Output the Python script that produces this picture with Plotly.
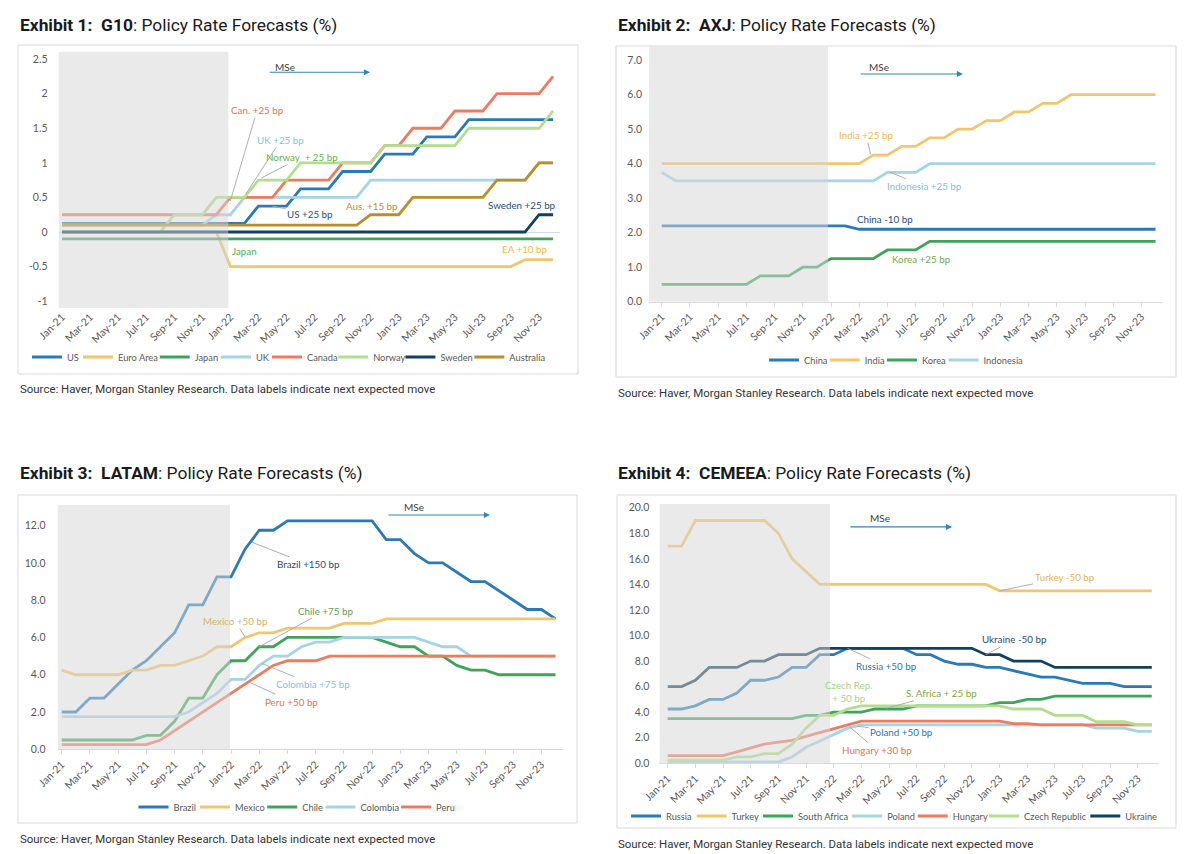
import plotly.graph_objects as go

# ---------------- data ----------------
months = ["Jan-21", "Feb-21", "Mar-21", "Apr-21", "May-21", "Jun-21", "Jul-21", "Aug-21", "Sep-21", "Oct-21", "Nov-21", "Dec-21",
          "Jan-22", "Feb-22", "Mar-22", "Apr-22", "May-22", "Jun-22", "Jul-22", "Aug-22", "Sep-22", "Oct-22", "Nov-22", "Dec-22",
          "Jan-23", "Feb-23", "Mar-23", "Apr-23", "May-23", "Jun-23", "Jul-23", "Aug-23", "Sep-23", "Oct-23", "Nov-23", "Dec-23"]

# Exhibit 1: G10
g10_us = [0.125, 0.125, 0.125, 0.125, 0.125, 0.125, 0.125, 0.125, 0.125, 0.125, 0.125, 0.125, 0.125, 0.125, 0.375, 0.375, 0.375, 0.625,
          0.625, 0.625, 0.875, 0.875, 0.875, 1.125, 1.125, 1.125, 1.375, 1.375, 1.375, 1.625, 1.625, 1.625, 1.625, 1.625, 1.625, 1.625]
g10_euro = [0.0, 0.0, 0.0, 0.0, 0.0, 0.0, 0.0, 0.0, 0.0, 0.0, 0.0, 0.0, -0.5, -0.5, -0.5, -0.5, -0.5, -0.5,
            -0.5, -0.5, -0.5, -0.5, -0.5, -0.5, -0.5, -0.5, -0.5, -0.5, -0.5, -0.5, -0.5, -0.5, -0.5, -0.4, -0.4, -0.4]
g10_japan = [-0.1, -0.1, -0.1, -0.1, -0.1, -0.1, -0.1, -0.1, -0.1, -0.1, -0.1, -0.1, -0.1, -0.1, -0.1, -0.1, -0.1, -0.1,
             -0.1, -0.1, -0.1, -0.1, -0.1, -0.1, -0.1, -0.1, -0.1, -0.1, -0.1, -0.1, -0.1, -0.1, -0.1, -0.1, -0.1, -0.1]
g10_uk = [0.1, 0.1, 0.1, 0.1, 0.1, 0.1, 0.1, 0.1, 0.1, 0.1, 0.1, 0.25, 0.25, 0.5, 0.5, 0.5, 0.5, 0.5,
          0.5, 0.5, 0.5, 0.5, 0.75, 0.75, 0.75, 0.75, 0.75, 0.75, 0.75, 0.75, 0.75, 0.75, 0.75, 0.75, 1.0, 1.0]
g10_canada = [0.25, 0.25, 0.25, 0.25, 0.25, 0.25, 0.25, 0.25, 0.25, 0.25, 0.25, 0.25, 0.5, 0.5, 0.5, 0.5, 0.75, 0.75,
              0.75, 0.75, 1.0, 1.0, 1.0, 1.25, 1.25, 1.5, 1.5, 1.5, 1.75, 1.75, 1.75, 2.0, 2.0, 2.0, 2.0, 2.25]
g10_norway = [0.0, 0.0, 0.0, 0.0, 0.0, 0.0, 0.0, 0.0, 0.25, 0.25, 0.25, 0.5, 0.5, 0.5, 0.75, 0.75, 0.75, 1.0,
              1.0, 1.0, 1.0, 1.0, 1.0, 1.25, 1.25, 1.25, 1.25, 1.25, 1.25, 1.5, 1.5, 1.5, 1.5, 1.5, 1.5, 1.75]
g10_sweden = [0.0, 0.0, 0.0, 0.0, 0.0, 0.0, 0.0, 0.0, 0.0, 0.0, 0.0, 0.0, 0.0, 0.0, 0.0, 0.0, 0.0, 0.0,
              0.0, 0.0, 0.0, 0.0, 0.0, 0.0, 0.0, 0.0, 0.0, 0.0, 0.0, 0.0, 0.0, 0.0, 0.0, 0.0, 0.25, 0.25]
g10_australia = [0.1, 0.1, 0.1, 0.1, 0.1, 0.1, 0.1, 0.1, 0.1, 0.1, 0.1, 0.1, 0.1, 0.1, 0.1, 0.1, 0.1, 0.1,
                 0.1, 0.1, 0.1, 0.1, 0.25, 0.25, 0.25, 0.5, 0.5, 0.5, 0.5, 0.5, 0.5, 0.75, 0.75, 0.75, 1.0, 1.0]

# Exhibit 2: AXJ
axj_china = [2.2, 2.2, 2.2, 2.2, 2.2, 2.2, 2.2, 2.2, 2.2, 2.2, 2.2, 2.2, 2.2, 2.2, 2.1, 2.1, 2.1, 2.1,
             2.1, 2.1, 2.1, 2.1, 2.1, 2.1, 2.1, 2.1, 2.1, 2.1, 2.1, 2.1, 2.1, 2.1, 2.1, 2.1, 2.1, 2.1]
axj_india = [4.0, 4.0, 4.0, 4.0, 4.0, 4.0, 4.0, 4.0, 4.0, 4.0, 4.0, 4.0, 4.0, 4.0, 4.0, 4.25, 4.25, 4.5,
             4.5, 4.75, 4.75, 5.0, 5.0, 5.25, 5.25, 5.5, 5.5, 5.75, 5.75, 6.0, 6.0, 6.0, 6.0, 6.0, 6.0, 6.0]
axj_korea = [0.5, 0.5, 0.5, 0.5, 0.5, 0.5, 0.5, 0.75, 0.75, 0.75, 1.0, 1.0, 1.25, 1.25, 1.25, 1.25, 1.5, 1.5,
             1.5, 1.75, 1.75, 1.75, 1.75, 1.75, 1.75, 1.75, 1.75, 1.75, 1.75, 1.75, 1.75, 1.75, 1.75, 1.75, 1.75, 1.75]
axj_indonesia = [3.75, 3.5, 3.5, 3.5, 3.5, 3.5, 3.5, 3.5, 3.5, 3.5, 3.5, 3.5, 3.5, 3.5, 3.5, 3.5, 3.75, 3.75,
                 3.75, 4.0, 4.0, 4.0, 4.0, 4.0, 4.0, 4.0, 4.0, 4.0, 4.0, 4.0, 4.0, 4.0, 4.0, 4.0, 4.0, 4.0]

# Exhibit 3: LATAM
lat_brazil = [2.0, 2.0, 2.75, 2.75, 3.5, 4.25, 4.75, 5.5, 6.25, 7.75, 7.75, 9.25, 9.25, 10.75, 11.75, 11.75, 12.25, 12.25,
              12.25, 12.25, 12.25, 12.25, 12.25, 11.25, 11.25, 10.5, 10.0, 10.0, 9.5, 9.0, 9.0, 8.5, 8.0, 7.5, 7.5, 7.0]
lat_mexico = [4.25, 4.0, 4.0, 4.0, 4.0, 4.25, 4.25, 4.5, 4.5, 4.75, 5.0, 5.5, 5.5, 6.0, 6.25, 6.25, 6.5, 6.5,
              6.5, 6.5, 6.75, 6.75, 6.75, 7.0, 7.0, 7.0, 7.0, 7.0, 7.0, 7.0, 7.0, 7.0, 7.0, 7.0, 7.0, 7.0]
lat_chile = [0.5, 0.5, 0.5, 0.5, 0.5, 0.5, 0.75, 0.75, 1.5, 2.75, 2.75, 4.0, 4.75, 4.75, 5.5, 5.5, 6.0, 6.0,
             6.0, 6.0, 6.0, 6.0, 6.0, 5.75, 5.5, 5.5, 5.0, 5.0, 4.5, 4.25, 4.25, 4.0, 4.0, 4.0, 4.0, 4.0]
lat_colombia = [1.75, 1.75, 1.75, 1.75, 1.75, 1.75, 1.75, 1.75, 1.75, 2.0, 2.5, 3.0, 3.75, 3.75, 4.5, 5.0, 5.0, 5.5,
                5.75, 5.75, 6.0, 6.0, 6.0, 6.0, 6.0, 6.0, 5.75, 5.5, 5.5, 5.0, 5.0, 5.0, 5.0, 5.0, 5.0, 5.0]
lat_peru = [0.25, 0.25, 0.25, 0.25, 0.25, 0.25, 0.25, 0.5, 1.0, 1.5, 2.0, 2.5, 3.0, 3.5, 4.0, 4.5, 4.75, 4.75,
            4.75, 5.0, 5.0, 5.0, 5.0, 5.0, 5.0, 5.0, 5.0, 5.0, 5.0, 5.0, 5.0, 5.0, 5.0, 5.0, 5.0, 5.0]

# Exhibit 4: CEMEEA
cem_russia = [4.25, 4.25, 4.5, 5.0, 5.0, 5.5, 6.5, 6.5, 6.75, 7.5, 7.5, 8.5, 8.5, 9.0, 9.0, 9.0, 9.0, 9.0,
              8.5, 8.5, 8.0, 7.75, 7.75, 7.5, 7.5, 7.25, 7.0, 6.75, 6.75, 6.5, 6.25, 6.25, 6.25, 6.0, 6.0, 6.0]
cem_turkey = [17.0, 17.0, 19.0, 19.0, 19.0, 19.0, 19.0, 19.0, 18.0, 16.0, 15.0, 14.0, 14.0, 14.0, 14.0, 14.0, 14.0, 14.0,
              14.0, 14.0, 14.0, 14.0, 14.0, 14.0, 13.5, 13.5, 13.5, 13.5, 13.5, 13.5, 13.5, 13.5, 13.5, 13.5, 13.5, 13.5]
cem_safrica = [3.5, 3.5, 3.5, 3.5, 3.5, 3.5, 3.5, 3.5, 3.5, 3.5, 3.75, 3.75, 4.0, 4.0, 4.0, 4.25, 4.25, 4.25,
               4.5, 4.5, 4.5, 4.5, 4.5, 4.5, 4.75, 4.75, 5.0, 5.0, 5.25, 5.25, 5.25, 5.25, 5.25, 5.25, 5.25, 5.25]
cem_poland = [0.1, 0.1, 0.1, 0.1, 0.1, 0.1, 0.1, 0.1, 0.1, 0.5, 1.25, 1.75, 2.25, 2.75, 3.0, 3.0, 3.0, 3.0,
              3.0, 3.0, 3.0, 3.0, 3.0, 3.0, 3.0, 3.0, 3.0, 3.0, 3.0, 3.0, 3.0, 2.75, 2.75, 2.75, 2.5, 2.5]
cem_hungary = [0.6, 0.6, 0.6, 0.6, 0.6, 0.9, 1.2, 1.5, 1.65, 1.8, 2.1, 2.4, 2.7, 3.0, 3.3, 3.3, 3.3, 3.3,
               3.3, 3.3, 3.3, 3.3, 3.3, 3.3, 3.3, 3.1, 3.1, 3.0, 3.0, 3.0, 3.0, 3.0, 3.0, 3.0, 3.0, 3.0]
cem_czech = [0.25, 0.25, 0.25, 0.25, 0.25, 0.5, 0.5, 0.75, 0.75, 1.5, 2.75, 3.75, 3.75, 4.25, 4.5, 4.5, 4.5, 4.5,
             4.5, 4.5, 4.5, 4.5, 4.5, 4.5, 4.5, 4.25, 4.25, 4.25, 3.75, 3.75, 3.75, 3.25, 3.25, 3.25, 3.0, 3.0]
cem_ukraine = [6.0, 6.0, 6.5, 7.5, 7.5, 7.5, 8.0, 8.0, 8.5, 8.5, 8.5, 9.0, 9.0, 9.0, 9.0, 9.0, 9.0, 9.0,
               9.0, 9.0, 9.0, 9.0, 9.0, 8.5, 8.5, 8.0, 8.0, 8.0, 7.5, 7.5, 7.5, 7.5, 7.5, 7.5, 7.5, 7.5]

# ---------------- styling ----------------
W, H = 1199, 854
BLUE, GOLD, GREEN, LBLUE = "#2A7AB8", "#F2C66D", "#3FA45B", "#A6D3E6"
ORANGE, LGREEN, NAVY, DGOLD = "#EE7B5D", "#B3DD8F", "#13405F", "#B8902A"
GREY_TXT = "#595959"
LEGFONT = 9.3
LABFONT = 9.8


def fx(px):
    return px / W


def fy(py):
    return 1 - py / H


def text_w(s, size):
    w = 0.0
    for ch in s:
        if ch in "ijlI.,:;'!|":
            w += 0.25
        elif ch in "frt -()":
            w += 0.34
        elif ch in "mwMW":
            w += 0.82
        elif ch.isupper():
            w += 0.64
        else:
            w += 0.52
    return w * size


panels = {
    1: dict(xpx=(58.5, 560.1), ypx=(51.5, 308.1), xr=[-0.25, 35.5], yr=[-1.1, 2.61],
            ytv=[-1, -0.5, 0, 0.5, 1, 1.5, 2, 2.5], ytt=["-1", "-0.5", "0", "0.5", "1", "1.5", "2", "2.5"],
            shade=11.85, leg=(291, 357), legtrim=9, box=(18, 45, 578, 374), title=(18, 25), src=(18, 389),
            head="Exhibit 1:\u00a0\u00a0G10", standoff=10,
            series=[("US", g10_us, BLUE), ("Euro Area", g10_euro, GOLD), ("Japan", g10_japan, GREEN),
                    ("UK", g10_uk, LBLUE), ("Canada", g10_canada, ORANGE), ("Norway", g10_norway, LGREEN),
                    ("Sweden", g10_sweden, NAVY), ("Australia", g10_australia, DGOLD)]),
    2: dict(xpx=(649.0, 1162.6), ypx=(46.4, 301.7), xr=[-0.9, 35.5], yr=[0, 7.4],
            ytv=[0, 1, 2, 3, 4, 5, 6, 7], ytt=["0.0", "1.0", "2.0", "3.0", "4.0", "5.0", "6.0", "7.0"],
            shade=11.79, leg=(898, 360), legtrim=7, box=(616, 46, 1176, 377), title=(616, 25), src=(616, 393),
            head="Exhibit 2:\u00a0\u00a0AXJ", standoff=6,
            series=[("China", axj_china, BLUE), ("India", axj_india, GOLD), ("Korea", axj_korea, GREEN),
                    ("Indonesia", axj_indonesia, LBLUE)]),
    3: dict(xpx=(57.5, 562.6), ypx=(505.1, 749.3), xr=[-0.3, 35.5], yr=[0, 13.1],
            ytv=[0, 2, 4, 6, 8, 10, 12], ytt=["0.0", "2.0", "4.0", "6.0", "8.0", "10.0", "12.0"],
            shade=11.93, leg=(299, 807), legtrim=7, box=(18, 495, 577, 823), title=(18, 473), src=(18, 839),
            head="Exhibit 3:\u00a0\u00a0LATAM", standoff=11,
            series=[("Brazil", lat_brazil, BLUE), ("Mexico", lat_mexico, GOLD), ("Chile", lat_chile, GREEN),
                    ("Colombia", lat_colombia, LBLUE), ("Peru", lat_peru, ORANGE)]),
    4: dict(xpx=(659.4, 1158.7), ypx=(503.9, 763.3), xr=[-0.6, 35.5], yr=[0, 20.3],
            ytv=[0, 2, 4, 6, 8, 10, 12, 14, 16, 18, 20],
            ytt=["0.0", "2.0", "4.0", "6.0", "8.0", "10.0", "12.0", "14.0", "16.0", "18.0", "20.0"],
            shade=11.74, leg=(896, 816), legtrim=7, box=(617, 495, 1176, 828), title=(616, 473), src=(616, 844),
            head="Exhibit 4:\u00a0\u00a0CEMEEA", standoff=9,
            series=[("Russia", cem_russia, BLUE), ("Turkey", cem_turkey, GOLD), ("South Africa", cem_safrica, GREEN),
                    ("Poland", cem_poland, LBLUE), ("Hungary", cem_hungary, ORANGE),
                    ("Czech Republic", cem_czech, LGREEN), ("Ukraine", cem_ukraine, NAVY)]),
}

fig = go.Figure()
layout = dict(width=W, height=H, autosize=False, margin=dict(l=0, r=0, t=0, b=0, autoexpand=False),
              paper_bgcolor="white", plot_bgcolor="white", showlegend=True)
shapes, annotations = [], []

for k, p in panels.items():
    sfx = "" if k == 1 else str(k)
    xa, ya = "x" + sfx, "y" + sfx
    leg = "legend" + sfx
    n = len(p["series"])
    for i, (name, vals, col) in enumerate(p["series"]):
        lw = text_w(name, LEGFONT) + (4 if i == n - 1 else -p["legtrim"])
        fig.add_trace(go.Scatter(x=months, y=vals, mode="lines", name=name,
                                 line=dict(color=col, width=2.8), xaxis=xa, yaxis=ya, legend=leg,
                                 legendwidth=max(6, lw), hoverinfo="skip"))
    layout["xaxis" + sfx] = dict(
        domain=[fx(p["xpx"][0]), fx(p["xpx"][1])], anchor=ya, type="category", range=p["xr"],
        tickmode="array", tickvals=months[0::2], ticktext=months[0::2], tickangle=-45,
        tickfont=dict(family="Lato", size=10.5, color=GREY_TXT), showgrid=False, zeroline=False,
        showline=(k != 1), linecolor="#D9D9D9", linewidth=1, automargin=False,
        ticks="" if k == 1 else "outside", ticklen=4, tickcolor="#D9D9D9", fixedrange=True)
    layout["yaxis" + sfx] = dict(
        domain=[fy(p["ypx"][1]), fy(p["ypx"][0])], anchor=xa, range=p["yr"],
        tickmode="array", tickvals=p["ytv"], ticktext=p["ytt"], showgrid=False,
        zeroline=(k == 1), zerolinecolor="#D9D9D9", zerolinewidth=1, showline=False,
        ticks="", ticklabelstandoff=p["standoff"], automargin=False,
        tickfont=dict(family="Lato", size=10.5, color=GREY_TXT), fixedrange=True)
    layout[leg] = dict(orientation="h", x=fx(p["leg"][0]), y=fy(p["leg"][1]), xanchor="center",
                       yanchor="middle", font=dict(family="Lato", size=LEGFONT, color=GREY_TXT),
                       bgcolor="rgba(0,0,0,0)", itemwidth=30, tracegroupgap=0)
    # forecast-history shading
    shapes.append(dict(type="rect", xref=xa, yref=ya, x0=p["xr"][0], x1=p["shade"], y0=p["yr"][0],
                       y1=p["yr"][1], fillcolor="rgba(214,214,214,0.5)", line=dict(width=0), layer="above"))
    # panel frame
    bx = p["box"]
    shapes.append(dict(type="rect", xref="paper", yref="paper", x0=fx(bx[0]), x1=fx(bx[2]),
                       y0=fy(bx[3]), y1=fy(bx[1]), line=dict(color="#D9D9D9", width=1),
                       fillcolor="rgba(0,0,0,0)", layer="below"))
    t = p["title"]
    annotations.append(dict(xref="paper", yref="paper", x=fx(t[0]), y=fy(t[1]), xanchor="left",
                            yanchor="middle", showarrow=False,
                            text="<b>" + p["head"] + "</b>: Policy Rate Forecasts (%)",
                            font=dict(family="Roboto", size=17.4, color="#1A1A1A")))
    s = p["src"]
    annotations.append(dict(xref="paper", yref="paper", x=fx(s[0]), y=fy(s[1]), xanchor="left",
                            yanchor="middle", showarrow=False,
                            text="Source: Haver, Morgan Stanley Research. Data labels indicate next expected move",
                            font=dict(family="Roboto", size=11.45, color="#333333")))

# MSe arrows: (panel, start_x, end_x, y, text_x, text_y)
mse = [(1, 14.7, 21.95, 2.31, 15.9, 2.39), (2, 14.0, 21.35, 6.6, 15.4, 6.8),
       (3, 23.05, 30.35, 12.57, 25.0, 13.0), (4, 13.1, 20.56, 18.5, 15.35, 19.2)]
for k, x0, x1, y, tx, ty in mse:
    sfx = "" if k == 1 else str(k)
    xa, ya = "x" + sfx, "y" + sfx
    annotations.append(dict(xref=xa, yref=ya, axref=xa, ayref=ya, x=x1, y=y, ax=x0, ay=y, text="",
                            showarrow=True, arrowhead=2, arrowsize=1.1, arrowwidth=1.1, arrowcolor="#2E86C1",
                            standoff=0, startstandoff=0))
    annotations.append(dict(xref=xa, yref=ya, x=tx, y=ty, text="MSe", showarrow=False,
                            font=dict(family="Lato", size=10, color="#404040")))

# data labels: (panel, text, text_x, text_y, colour, target or None)
labels = [
    (1, "Can. +25 bp", 13.9, 1.76, "#E8704F", (12.0, 0.45)),
    (1, "UK +25 bp", 15.6, 1.33, "#7FBFDB", (13.1, 0.55)),
    (1, "Norway  + 25 bp", 17.1, 1.085, "#6DB33F", (14.2, 0.78)),
    (1, "US +25 bp", 17.7, 0.26, "#1F4E79", (15.0, 0.375)),
    (1, "Aus. +15 bp", 22.1, 0.376, "#B8902A", None),
    (1, "Sweden +25 bp", 32.8, 0.39, "#1F4E79", None),
    (1, "Japan", 13.0, -0.27, "#4CAF50", None),
    (1, "EA +10 bp", 33.0, -0.25, "#F0B94E", None),
    (2, "India +25 bp", 14.5, 4.83, "#F0B94E", (14.8, 4.27)),
    (2, "Indonesia +25 bp", 18.6, 3.35, "#7FBFDB", (16.2, 3.75)),
    (2, "China -10 bp", 15.8, 2.39, "#1F4E79", None),
    (2, "Korea +25 bp", 18.4, 1.23, "#70AD47", None),
    (3, "Brazil +150 bp", 17.5, 9.92, "#1F4E79", (13.5, 11.1)),
    (3, "Chile +75 bp", 18.7, 7.44, "#5E9F5E", (14.0, 5.5)),
    (3, "Mexico +50 bp", 12.3, 6.88, "#D4B46A", (13.0, 6.0)),
    (3, "Colombia +75 bp", 17.8, 3.49, "#7FBFDB", (14.2, 4.6)),
    (3, "Peru +50 bp", 16.3, 2.55, "#E8704F", (13.3, 3.6)),
    (4, "Turkey -50 bp", 28.7, 14.55, "#E8B55A", (24.0, 13.5)),
    (4, "Ukraine -50 bp", 25.1, 9.7, "#1F4E79", (23.0, 8.5)),
    (4, "Russia +50 bp", 15.8, 7.6, "#2E75B6", (13.0, 9.0)),
    (4, "Czech Rep.<br>+ 50 bp", 13.1, 5.6, "#A9D18E", None),
    (4, "S. Africa + 25 bp", 19.8, 5.48, "#7CA93A", (15.8, 4.3)),
    (4, "Poland +50 bp", 16.9, 2.47, "#2E75B6", (13.7, 2.9)),
    (4, "Hungary +30 bp", 15.1, 1.04, "#E8704F", (13.1, 2.9)),
]
for k, txt, tx, ty, col, tgt in labels:
    sfx = "" if k == 1 else str(k)
    xa, ya = "x" + sfx, "y" + sfx
    f = dict(family="Lato", size=LABFONT, color=col)
    if tgt is None:
        annotations.append(dict(xref=xa, yref=ya, x=tx, y=ty, text=txt, showarrow=False, font=f))
    else:
        annotations.append(dict(xref=xa, yref=ya, axref=xa, ayref=ya, x=tgt[0], y=tgt[1], ax=tx, ay=ty,
                                text=txt, showarrow=True, arrowhead=0, arrowwidth=0.9,
                                arrowcolor="#A6A6A6", standoff=0, font=f))

layout["shapes"] = shapes
layout["annotations"] = annotations
fig.update_layout(**layout)
fig.write_html("out.html", config={"displayModeBar": False},
               post_script="document.body.style.margin='0';document.body.style.padding='0';")
